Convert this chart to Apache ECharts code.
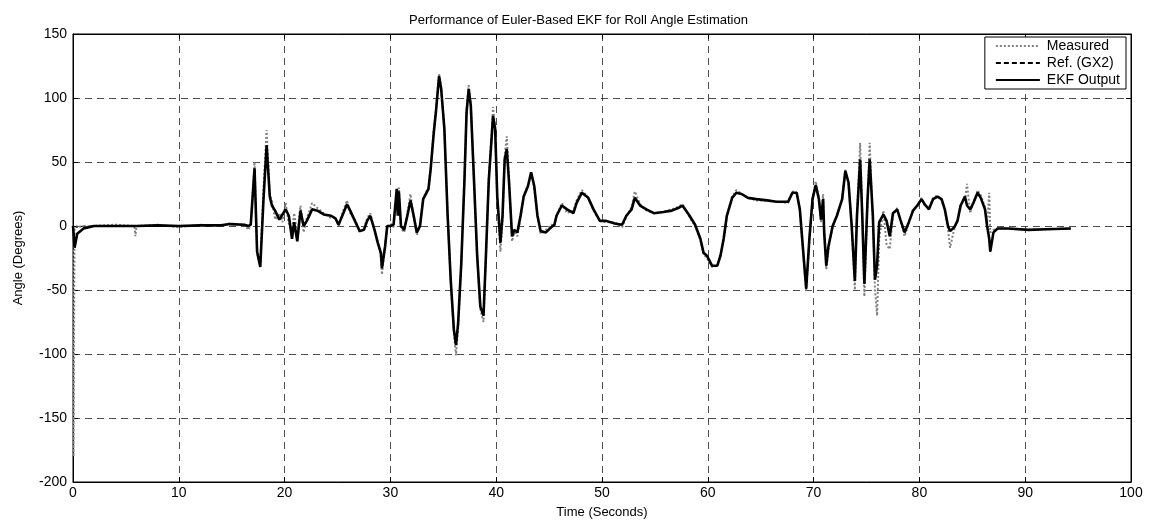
<!DOCTYPE html>
<html>
<head>
<meta charset="utf-8">
<script src="https://cdn.jsdelivr.net/npm/echarts@6/dist/echarts.min.js"></script>
<style>html,body{margin:0;padding:0;background:#fff;}#c{width:1157px;height:527px;}</style>
</head>
<body>
<div id="c"></div>
<script>
const titleText = 'Performance of Euler-Based EKF for Roll Angle Estimation';
const xTicks = [0,10,20,30,40,50,60,70,80,90,100];
const yTicks = [-200,-150,-100,-50,0,50,100,150];
const time = [0,0.05,0.15,0.4,1.0,2.0,4.0,5.8,5.9,6.0,8.0,10,12,14,14.8,16.2,16.6,16.8,17.16,17.4,17.7,18.0,18.3,18.6,18.8,19.1,19.5,19.8,20.1,20.4,20.7,20.9,21.2,21.5,21.8,22.1,22.6,23.1,23.7,24.4,24.8,25.1,25.5,25.9,26.2,26.7,27.1,27.5,27.8,28.1,28.5,28.8,29.1,29.2,29.5,29.7,30.0,30.3,30.6,30.7,30.8,31.0,31.3,31.6,31.9,32.2,32.5,32.8,33.1,33.6,33.8,34.1,34.3,34.6,34.8,35.1,35.4,35.7,36.0,36.2,36.4,36.7,37.0,37.2,37.4,37.6,37.9,38.2,38.5,38.8,39.0,39.3,39.6,39.7,39.9,40.1,40.4,40.6,40.8,41.0,41.2,41.5,41.7,42.0,42.3,42.6,43.0,43.3,43.6,43.9,44.2,44.7,45.2,45.5,45.7,46.2,46.7,47.3,47.6,48.1,48.7,49.2,49.8,50.4,51.2,51.9,52.3,52.8,53.1,53.6,54.2,54.9,55.8,56.6,57.2,57.6,58.2,58.8,59.3,59.6,59.9,60.4,60.9,61.2,61.5,61.8,62.3,62.7,63.2,63.8,64.6,65.6,66.5,67.6,68.0,68.4,68.7,69.0,69.3,69.6,69.9,70.2,70.5,70.7,70.9,71.0,71.2,71.4,71.8,72.2,72.7,73.0,73.3,73.6,73.9,74.1,74.4,74.6,74.8,75.1,75.3,75.6,75.8,76.0,76.2,76.6,76.9,77.2,77.5,77.9,78.2,78.6,79.0,79.4,79.8,80.2,80.5,80.9,81.3,81.7,82.1,82.4,82.7,82.9,83.3,83.6,83.9,84.3,84.5,84.8,85.1,85.5,85.8,86.2,86.4,86.6,86.7,87.0,87.4,88.4,90.3,92.0,94.3];
const ekf = [0,-5,-17,-6,-2,0,0,0,0,0,0.5,0,0.5,0.5,1.5,1,0,1,45,-20,-32,20,63,23,16,12,5,9,13,8,-10,3,-12,12,0,4,13,12,9,8,6,1,9,17,12,3,-4,-3,4,8,-3,-13,-21,-33,-16,0,0,1,29,8,27,0,-3,8,20,8,-5,0,21,29,44,73,89,117,107,76,10,-42,-81,-93,-76,-29,36,89,107,94,36,-23,-63,-70,-29,36,73,86,76,23,-13,8,52,60,36,-8,-3,-5,8,23,31,42,31,8,-4,-5,-1,1,8,16,13,10,18,26,22,13,4,4,2,1,8,13,22,16,13,10,11,12,14,16,9,1,-10,-21,-23,-31,-31,-23,-10,8,22,26,25,22,21,20,19,19,26,26,13,-18,-49,-10,21,32,21,5,21,-5,-31,-16,0,8,21,43,34,0,-43,8,52,8,-45,21,52,8,-42,-31,3,9,4,-8,10,13,5,-5,3,12,16,21,17,13,21,23,21,13,0,-4,-1,4,16,23,16,13,18,26,22,13,0,-10,-20,-5,-2,-2,-3,-2.5,-2];
const ref = [0,0,-1,-1,0,0,0,0,0,0,0.5,0,0.5,0.5,1.5,1,0,1,44,-19,-30,21,62,24,15,12,5,9,13,8,-9,3,-11,12,0,4,13,12,9,8,6,1,9,17,12,3,-4,-3,4,8,-3,-13,-21,-32,-15,0,0,1,28,8,26,0,-3,8,20,8,-5,0,21,29,44,73,89,117,107,76,10,-42,-81,-93,-76,-29,36,89,107,94,36,-23,-63,-70,-29,36,73,86,76,23,-13,8,52,60,36,-8,-3,-5,8,23,31,41,31,8,-4,-5,-1,1,8,16,13,10,18,26,22,13,4,4,2,1,8,13,22,16,13,10,11,12,14,16,9,1,-10,-21,-23,-31,-31,-23,-10,8,22,26,25,22,21,20,19,19,26,26,13,-18,-49,-10,21,32,21,5,21,-5,-31,-16,0,8,21,43,34,0,-43,8,52,8,-45,21,52,8,-42,-31,3,9,4,-8,10,13,5,-5,3,12,16,21,17,13,21,23,21,13,0,-4,-1,4,16,23,16,13,18,26,22,13,0,-10,-20,-5,-2,-2,-3,-2.5,-2];
const measured = [0,-180,-2,0,-1,0,1,0,-8,0,1,-1,1,0,2,1,-3,2,50,-22,-30,28,75,25,20,5,10,3,18,2,-4,10,-6,16,-5,6,18,14,10,6,7,0,11,20,10,4,-5,-2,6,10,-4,-12,-24,-38,-14,-2,2,-1,26,10,30,-2,-5,10,25,6,-7,1,22,30,45,75,90,119,108,75,10,-43,-84,-101,-80,-30,37,90,110,95,35,-24,-65,-75,-30,37,75,93,77,20,-20,5,55,70,38,-12,-5,-8,6,24,32,41,30,8,-6,-3,1,0,8,18,10,12,20,28,22,12,4,3,3,-1,7,15,27,17,12,10,11,13,15,17,8,0,-11,-22,-25,-32,-31,-24,-10,8,23,28,25,22,20,20,19,18,27,26,12,-20,-51,-12,22,35,22,3,25,-3,-34,-18,-1,8,22,44,33,0,-50,10,65,10,-55,20,65,5,-50,-70,-10,12,-15,-18,8,14,4,-8,2,13,15,22,16,14,22,24,20,12,-2,-17,-2,5,17,20,33,10,18,28,24,15,2,26,-5,-3,-2,-2,-3,-2.5,-2];

const pairs = (vals) => time.map((t, i) => [t, vals[i]]);
const font = 'Liberation Sans, Arial, Helvetica, sans-serif';
const gridLine = {show: true, lineStyle: {color: '#222', type: [7, 5], width: 1, opacity: 0.8}};

const chart = echarts.init(document.getElementById('c'), null, {renderer: 'canvas'});
chart.setOption({
  animation: false,
  backgroundColor: '#ffffff',
  title: {
    text: titleText, left: 'center', top: 9,
    textStyle: {fontFamily: font, fontSize: 13, fontWeight: 'normal', color: '#000'}
  },
  grid: {left: 73, right: 26, top: 34, bottom: 45, show: true, borderColor: '#000', borderWidth: 1, backgroundColor: '#fff'},
  legend: {
    orient: 'vertical', right: 31, top: 37,
    backgroundColor: '#fff', borderColor: '#000', borderWidth: 1,
    padding: [2, 6, 2, 10], itemGap: 3, itemWidth: 44, itemHeight: 14,
    itemStyle: {opacity: 0},
    textStyle: {fontFamily: font, fontSize: 14, color: '#000', padding: [0, 0, 0, 2]},
    data: ['Measured', 'Ref. (GX2)', 'EKF Output']
  },
  xAxis: [{
    type: 'value', min: 0, max: 100, interval: 10,
    name: 'Time (Seconds)', nameLocation: 'middle', nameGap: 24,
    nameTextStyle: {fontFamily: font, fontSize: 13, color: '#000'},
    axisLine: {show: true, onZero: false, lineStyle: {color: '#000'}},
    axisTick: {show: true, inside: true, length: 5, lineStyle: {color: '#000'}},
    axisLabel: {fontFamily: font, fontSize: 14, color: '#000', margin: 4,
      formatter: (v) => xTicks.includes(v) ? String(v) : ''},
    splitLine: gridLine
  }, {
    type: 'value', position: 'top', min: 0, max: 100, interval: 10,
    axisLine: {show: true, onZero: false, lineStyle: {color: '#000'}},
    axisTick: {show: true, inside: true, length: 5, lineStyle: {color: '#000'}},
    axisLabel: {show: false}, splitLine: {show: false}
  }],
  yAxis: [{
    type: 'value', min: -200, max: 150, interval: 50,
    name: 'Angle (Degrees)', nameLocation: 'middle', nameGap: 48, nameRotate: 90,
    nameTextStyle: {fontFamily: font, fontSize: 13, color: '#000'},
    axisLine: {show: true, onZero: false, lineStyle: {color: '#000'}},
    axisTick: {show: true, inside: true, length: 5, lineStyle: {color: '#000'}},
    axisLabel: {fontFamily: font, fontSize: 14, color: '#000', margin: 6,
      formatter: (v) => yTicks.includes(v) ? String(v) : ''},
    splitLine: gridLine
  }, {
    type: 'value', position: 'right', min: -200, max: 150, interval: 50,
    axisLine: {show: true, onZero: false, lineStyle: {color: '#000'}},
    axisTick: {show: true, inside: true, length: 5, lineStyle: {color: '#000'}},
    axisLabel: {show: false}, splitLine: {show: false}
  }],
  series: [{
    name: 'Measured', type: 'line', data: pairs(measured), symbol: 'none', z: 2,
    lineStyle: {color: '#808080', width: 2, type: [2, 2]},
    itemStyle: {color: '#808080'}
  }, {
    name: 'Ref. (GX2)', type: 'line', data: pairs(ref), symbol: 'none', z: 3,
    lineStyle: {color: '#000', width: 1, type: [5, 3]},
    itemStyle: {color: '#000'}
  }, {
    name: 'EKF Output', type: 'line', data: pairs(ekf), symbol: 'none', z: 4,
    lineStyle: {color: '#000', width: 2.6},
    itemStyle: {color: '#000'}
  }]
});
</script>
</body>
</html>
